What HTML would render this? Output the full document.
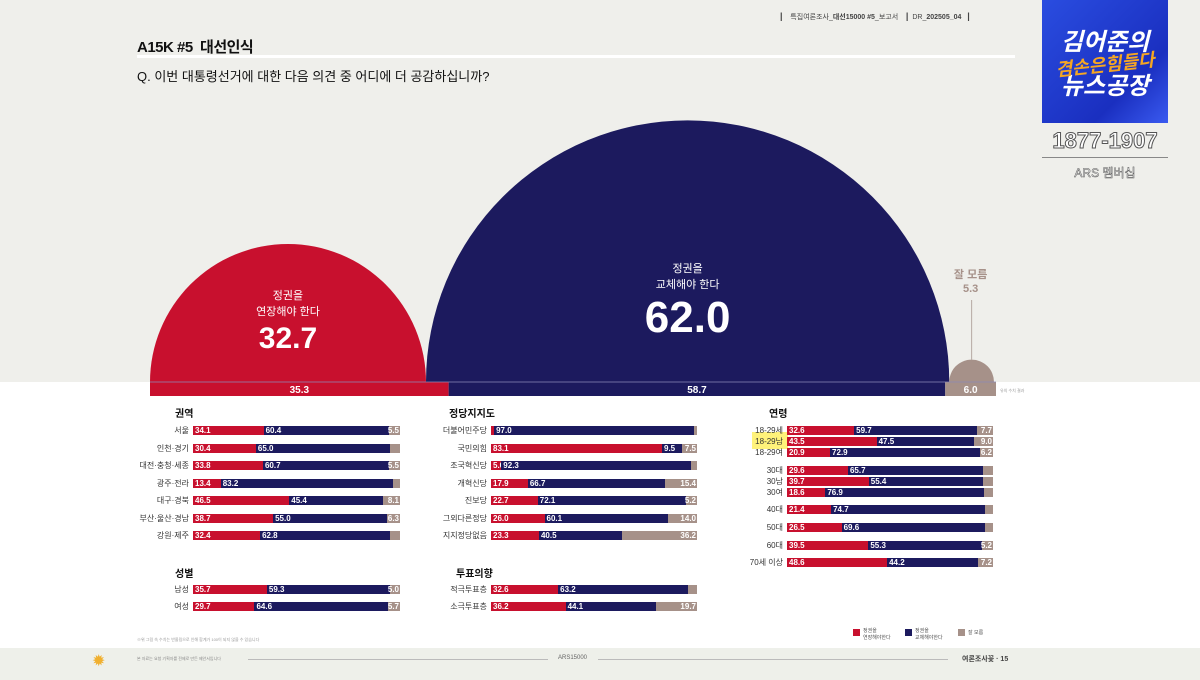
<!DOCTYPE html>
<html><head><meta charset="utf-8">
<style>
*{margin:0;padding:0;box-sizing:border-box}
body{width:1200px;height:680px;overflow:hidden;background:#fff;font-family:"Liberation Sans","Noto Sans CJK KR",sans-serif;position:relative}
.abs{position:absolute}
#top{left:0;top:0;width:1200px;height:382px;background:#efefeb}
#foot{left:0;top:648px;width:1200px;height:32px;background:#eef0ea}
.bl{position:absolute;font-size:8px;color:#333;text-align:right;white-space:nowrap}
.seg{position:absolute;height:9px}
.sl{position:absolute;font-size:8px;font-weight:bold;color:#fff;line-height:9px;white-space:nowrap}
.hd{position:absolute;font-size:10px;font-weight:bold;color:#111}
</style></head><body>
<div id="top" class="abs"></div>
<div id="foot" class="abs"></div>

<div class="abs" style="left:780px;top:11px;font-size:7px;color:#444;white-space:nowrap">
<b style="font-size:9px">|</b>&nbsp;&nbsp;&nbsp;&nbsp;특집여론조사_<b>대선15000 #5</b>_보고서&nbsp;&nbsp;&nbsp;&nbsp;<b style="font-size:9px">|</b>&nbsp;&nbsp;DR_<b>202505_04</b>&nbsp;&nbsp;&nbsp;<b style="font-size:9px">|</b></div>
<div class="abs" style="left:137px;top:36px;font-size:15px;font-weight:bold;color:#111;letter-spacing:-0.5px">A15K #5&nbsp; 대선인식</div>
<div class="abs" style="left:137px;top:55px;width:878px;height:3px;background:#fff"></div>
<div class="abs" style="left:137px;top:66px;font-size:13px;color:#111">Q. 이번 대통령선거에 대한 다음 의견 중 어디에 더 공감하십니까?</div>

<!-- logo -->
<div class="abs" style="left:1042px;top:0;width:126px;height:123px;background:linear-gradient(135deg,#2a4de0,#1a2fc0 70%,#3a5af0);text-align:center;font-weight:bold;font-style:italic">
<div style="color:#fff;font-size:24px;margin-top:30px;line-height:26px">김어준의</div>
<div style="color:#f5a623;font-size:18px;line-height:18px;transform:rotate(-6deg)">겸손은힘들다</div>
<div style="color:#fff;font-size:24px;line-height:26px">뉴스공장</div>
</div>
<div class="abs" style="left:1042px;top:128px;width:126px;text-align:center;font-size:22px;font-weight:bold;color:#fff;-webkit-text-stroke:1px #555">1877-1907</div>
<div class="abs" style="left:1042px;top:157px;width:126px;height:1px;background:#888"></div>
<div class="abs" style="left:1042px;top:164px;width:126px;text-align:center;font-size:12px;color:#fff;-webkit-text-stroke:0.5px #555">ARS 멤버십</div>

<svg class="abs" style="left:0;top:0" width="1200" height="400" id="semi"></svg>

<div id="bars"></div>

<div class="abs" style="left:137px;top:637px;font-size:4px;color:#999">※위 그림 속 수치는 반올림으로 인해 합계가 100이 되지 않을 수 있습니다</div>
<div class="abs" style="left:853px;top:627px;font-size:5px;color:#555">
<span style="position:absolute;left:0;top:2px;width:7px;height:7px;background:#c8102e"></span><span style="position:absolute;left:10px;top:0;width:40px">정권을<br>연장해야한다</span>
<span style="position:absolute;left:52px;top:2px;width:7px;height:7px;background:#1c1a5e"></span><span style="position:absolute;left:62px;top:0;width:40px">정권을<br>교체해야한다</span>
<span style="position:absolute;left:105px;top:2px;width:7px;height:7px;background:#a69189"></span><span style="position:absolute;left:115px;top:2px;width:30px">잘 모름</span>
</div>
<div class="abs" style="left:92px;top:651px;font-size:16px;color:#f0b030">✹</div>
<div class="abs" style="left:137px;top:656px;font-size:4px;color:#888">본 자료는 요청 기획자를 전제로 만든 제안서입니다</div>
<div class="abs" style="left:248px;top:659px;width:300px;height:1px;background:#bbb"></div>
<div class="abs" style="left:558px;top:655px;font-size:6px;color:#666">ARS15000</div>
<div class="abs" style="left:598px;top:659px;width:350px;height:1px;background:#bbb"></div>
<div class="abs" style="left:962px;top:654px;font-size:7px;color:#444;font-weight:bold">여론조사꽃 · 15</div>

<script>
// ---- semicircle data ----
const semiLabels = ['정권을|연장해야 한다','정권을|교체해야 한다','잘 모름'];
const semiValues = [32.7, 62.0, 5.3];
const baseLabels = ['35.3','58.7','6.0'];
const baseValues = [35.3, 58.7, 6.0];

const C = ['#c8102e','#1c1a5e','#a69189'];
const NS='http://www.w3.org/2000/svg';
const svg=document.getElementById('semi');
function mk(tag,attrs,name){const e=document.createElementNS(NS,tag);for(const k in attrs)e.setAttribute(k,attrs[k]);
svg.appendChild(e);return e;}
const rScale=v=>v*4.22, baseY=382, left=150;
const labelTop=[299,272], valueBase=[348,332], valueSize=[30,44];
let x=left;
semiValues.forEach((v,i)=>{
  const r=rScale(v), cx=x+r;
  mk('path',{d:`M${x} ${baseY} A${r} ${r} 0 0 1 ${x+2*r} ${baseY} Z`,fill:C[i]},'semicircle-'+i);
  const lines=semiLabels[i].split('|');
  if(i<2){
    lines.forEach((t,j)=>{const e=mk('text',{x:cx,y:labelTop[i]+j*16,'text-anchor':'middle','font-size':11,fill:'#fff'},'semicircle-label-'+i);e.textContent=t;});
    const e=mk('text',{x:cx,y:valueBase[i],'text-anchor':'middle','font-size':valueSize[i],'font-weight':'bold',fill:'#fff'},'semicircle-value-'+i);e.textContent=v.toFixed(1);
  } else {
    mk('line',{x1:cx,y1:baseY-r,x2:cx,y2:300,stroke:'#b5a8a2','stroke-width':1},'dk-leader');
    let e=mk('text',{x:cx-1,y:278,'text-anchor':'middle','font-size':11,'font-weight':'bold',fill:'#a69189'},'dk-label');e.textContent=lines[0];
    e=mk('text',{x:cx-1,y:292,'text-anchor':'middle','font-size':11,'font-weight':'bold',fill:'#a69189'},'dk-value');e.textContent=v.toFixed(1);
  }
  x+=2*r;
});
const bW=846, bTot=baseValues.reduce((a,b)=>a+b,0);
x=left;
baseValues.forEach((v,i)=>{const w=v/bTot*bW;
  mk('rect',{x:x,y:baseY,width:w,height:14,fill:C[i]},'base-bar-'+i);
  const e=mk('text',{x:x+w/2,y:baseY+11,'text-anchor':'middle','font-size':10,'font-weight':'bold',fill:'#fff'},'base-bar-label-'+i);e.textContent=baseLabels[i];
  x+=w;});
mk('line',{x1:left,y1:baseY,x2:left+bW,y2:baseY,stroke:'#8d8ab8','stroke-width':0.8},'base-rule');
{const e=mk('text',{x:1000,y:392,'font-size':4,fill:'#999'},'base-note');e.textContent='유의 수치 결과';}

// ---- crosstab data ----
const regionCats=['서울','인천·경기','대전·충청·세종','광주·전라','대구·경북','부산·울산·경남','강원·제주'];
const regionRed=[34.1,30.4,33.8,13.4,46.5,38.7,32.4];
const regionNavy=[60.4,65.0,60.7,83.2,45.4,55.0,62.8];
const regionDk=[5.5,4.6,5.5,3.4,8.1,6.3,4.8];
const regionDkShow=[1,0,1,0,1,1,0];
const genderCats=['남성','여성'];
const genderRed=[35.7,29.7];
const genderNavy=[59.3,64.6];
const genderDk=[5.0,5.7];
const genderDkShow=[1,1];
const partyCats=['더불어민주당','국민의힘','조국혁신당','개혁신당','진보당','그외다른정당','지지정당없음'];
const partyRed=[1.5,83.1,5.0,17.9,22.7,26.0,23.3];
const partyNavy=[97.0,9.5,92.3,66.7,72.1,60.1,40.5];
const partyDk=[1.5,7.5,2.7,15.4,5.2,14.0,36.2];
const partyDkShow=[0,1,0,1,1,1,1];
const partyRedShow=[0,1,1,1,1,1,1];
const voteCats=['적극투표층','소극투표층'];
const voteRed=[32.6,36.2];
const voteNavy=[63.2,44.1];
const voteDk=[4.2,19.7];
const voteDkShow=[0,1];
const ageCats=['18-29세','18-29남','18-29여','30대','30남','30여','40대','50대','60대','70세 이상'];
const ageRed=[32.6,43.5,20.9,29.6,39.7,18.6,21.4,26.5,39.5,48.6];
const ageNavy=[59.7,47.5,72.9,65.7,55.4,76.9,74.7,69.6,55.3,44.2];
const ageDk=[7.7,9.0,6.2,4.7,4.9,4.5,3.9,3.9,5.2,7.2];
const ageDkShow=[1,1,1,0,0,0,0,0,1,1];

const host=document.getElementById('bars');
function div(cls,style,name,text){const d=document.createElement('div');d.className=cls;d.style.cssText=style;


if(text!=null)d.textContent=text;host.appendChild(d);return d;}
function group(title,tx,ty,bx,bw,ys,cats,red,navy,dk,dkShow,redShow){
  div('hd',`left:${tx}px;top:${ty}px`,'group-title',title);
  cats.forEach((c,i)=>{
    const y=ys[i], tot=red[i]+navy[i]+dk[i];
    div('bl',`right:${1200-bx+4}px;top:${y-1}px`,'row-label',c);
    const vals=[red[i],navy[i],dk[i]];let x=bx;
    vals.forEach((v,k)=>{const w=v/tot*bw;
      div('seg',`left:${x}px;top:${y}px;width:${w}px;background:${C[k]}`,['bar-red','bar-navy','bar-dk'][k]);
      const show=k==0?(redShow?redShow[i]:1):k==1?1:dkShow[i];
      if(show){ if(k<2) div('sl',`left:${x+2}px;top:${y}px`,'bar-value',v.toFixed(1));
        else div('sl',`right:${1200-(x+w)+1}px;top:${y}px`,'bar-value',v.toFixed(1)); }
      x+=w;});
  });
}
const rowsA=[426,444,461,479,496,514,531];
group('권역',175,405,193,207,rowsA,regionCats,regionRed,regionNavy,regionDk,regionDkShow);
group('성별',175,565,193,207,[585,602],genderCats,genderRed,genderNavy,genderDk,genderDkShow);
group('정당지지도',449,405,491,206,rowsA,partyCats,partyRed,partyNavy,partyDk,partyDkShow,partyRedShow);
group('투표의향',456,565,491,206,[585,602],voteCats,voteRed,voteNavy,voteDk,voteDkShow);
div('abs','left:752px;top:432px;width:36px;height:17px;background:#fff27a','highlight',null).style.position='absolute';
group('연령',769,405,787,206,[426,437,448,466,477,488,505,523,541,558],ageCats,ageRed,ageNavy,ageDk,ageDkShow);
</script>
</body></html>
